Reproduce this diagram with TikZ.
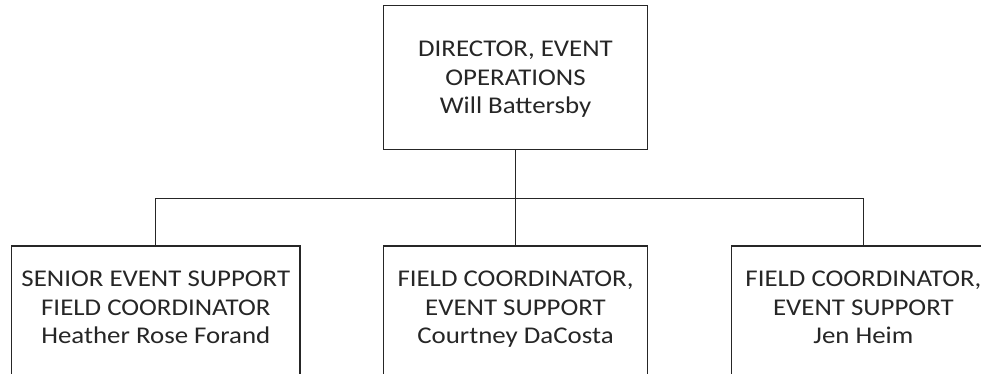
\documentclass[tikz,border=0pt]{standalone}
\usepackage{fontspec}
\setmainfont{Carlito}[FakeStretch=1.12]
\tikzset{
  posbox/.style={draw=black!85, line width=1.1pt, minimum width=264pt, inner sep=0pt, outer sep=0pt,
    align=center, anchor=north, text=black!85, font=\fontsize{24}{28.3}\selectfont},
  link/.style={draw=black!85, line width=1.1pt},
}
\begin{document}
\begin{tikzpicture}[x=1pt,y=-1pt]
  \clip (0,0) rectangle (981,373);
  % top of the chart
  \node[posbox, text height=107.6pt, text depth=35.8pt] (director) at (515.5,5.7)
    {DIRECTOR, EVENT\\OPERATIONS\\Will Battersby};
  % the three reports
  \node[posbox, minimum width=288.3pt, text height=97.3pt, text depth=46.1pt] (senior) at (155.8,246)
    {SENIOR EVENT SUPPORT\\FIELD COORDINATOR\\Heather Rose Forand};
  \node[posbox, text height=97.3pt, text depth=46.1pt] (courtney) at (515.5,246)
    {FIELD COORDINATOR,\\EVENT SUPPORT\\Courtney DaCosta};
  \node[posbox, text height=97.3pt, text depth=46.1pt] (jen) at (863.4,246)
    {FIELD COORDINATOR,\\EVENT SUPPORT\\Jen Heim};
  \coordinate (branch) at (515.5,198.3);
  \draw[link] (director.south) -- (courtney.north);
  \draw[link] (senior.north) |- (branch) -| (jen.north);
\end{tikzpicture}
\end{document}
